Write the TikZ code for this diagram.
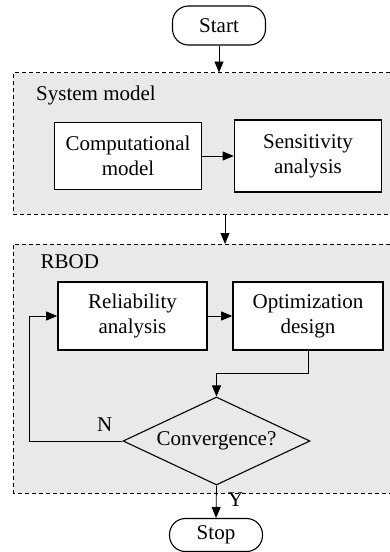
\documentclass[tikz,border=0pt]{standalone}
\usepackage{fontspec}
\setmainfont{Liberation Serif}
\usetikzlibrary{arrows.meta,shapes.geometric}
\definecolor{groupfill}{RGB}{233,233,233}
\tikzset{
  every node/.style={font=\fontsize{21}{25}\selectfont},
  groupfillstyle/.style={fill=groupfill},
  groupline/.style={draw=black, line width=0.8pt, dash pattern=on 4pt off 3pt},
  procbox/.style={draw=black, line width=1.6pt, fill=white, align=center, inner sep=0pt},
  termbox/.style={draw=black, line width=1.1pt, fill=white, rounded corners=16pt, minimum width=93pt, inner sep=0pt},
  decbox/.style={draw=black, line width=1.1pt, diamond, shape aspect=2.1, inner sep=0pt, minimum width=187pt, minimum height=88pt},
  conn/.style={draw=black, line width=0.8pt, -{Triangle[length=11pt,width=9pt]}},
  lbl/.style={inner sep=0pt, anchor=base west}
}
\begin{document}
\begin{tikzpicture}[x=1pt,y=-1pt]
\useasboundingbox (0,0) rectangle (390,552);
% group areas (open on the right: they run past the picture's edge)
\coordinate (sysnw) at (13.3,72.5);
\coordinate (sysne) at (390,72.5);
\coordinate (syssw) at (13.3,214);
\coordinate (sysse) at (390,214);
\coordinate (rbodnw) at (13.3,244);
\coordinate (rbodne) at (390,244);
\coordinate (rbodsw) at (13.3,493);
\coordinate (rbodse) at (390,493);
\fill[groupfillstyle] (sysnw) rectangle (sysse);
\fill[groupfillstyle] (rbodnw) rectangle (rbodse);
\draw[groupline] (sysne) -- (sysnw) -- (syssw) -- (sysse);
\draw[groupline] (rbodne) -- (rbodnw) -- (rbodsw) -- (rbodse);
\node[lbl] (syslbl) at (36,100) {System model};
\node[lbl] (rbodlbl) at (40.5,268) {RBOD};
% terminals
\node[termbox, minimum height=39pt] (start) at (219,25.5) {Start};
\node[termbox, minimum height=33pt] (stop) at (216,535) {Stop};
% process boxes
\node[procbox, minimum width=147pt, minimum height=67pt] (comp) at (128,156) {Computational\\model};
\node[procbox, minimum width=147pt, minimum height=72pt] (sens) at (308,156) {Sensitivity\\analysis};
\node[procbox, minimum width=149pt, minimum height=68pt] (rel) at (132.5,316) {Reliability\\analysis};
\node[procbox, minimum width=150pt, minimum height=68pt] (opt) at (308,316) {Optimization\\design};
% decision
\node[decbox] (dia) at (216.5,441) {Convergence?};
% connectors
\draw[conn] (start.south) -- (start.south |- sysnw);
\draw[conn] (comp.east) -- (sens.west);
\coordinate (sysout) at (225,214);
\draw[conn] (sysout) -- (sysout |- rbodnw);
\draw[conn] (rel.east) -- (opt.west);
\coordinate (bend) at (308,373);
\draw[conn] (opt.south) -- (bend) -| (dia.north);
\coordinate (nloop) at (29,441);
\draw[conn] (dia.west) -- (nloop) |- (rel.west);
\draw[conn] (dia.south) -- (stop.north);
\node[lbl] (nlbl) at (97,431.5) {N};
\node[lbl] (ylbl) at (228,506.5) {Y};
\end{tikzpicture}
\end{document}
